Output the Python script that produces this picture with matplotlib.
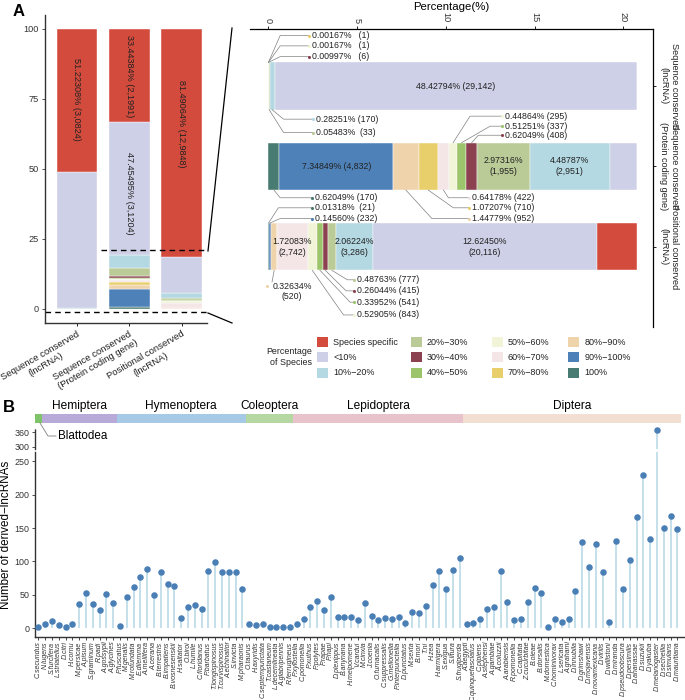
import matplotlib.pyplot as plt
from matplotlib.patches import Rectangle
from matplotlib.lines import Line2D
import numpy as np

plt.rcParams['font.family'] = ['Liberation Sans', 'DejaVu Sans']

# ---------------- panel A data ----------------
groups = ["Sequence conserved\n(lncRNA)",
          "Sequence conserved\n(Protein coding gene)",
          "Positional conserved\n(lncRNA)"]
levels = ["100%", "90%−100%", "80%−90%", "70%−80%", "60%−70%", "50%−60%",
          "40%−50%", "30%−40%", "20%−30%", "10%−20%", "<10%", "Species specific"]
level_colors = ["#487B71", "#4F81B9", "#EFD3AA", "#E9CF6B", "#F4E5E6", "#F1F4D6",
                "#9CC46B", "#8C4150", "#BBCB98", "#B4D9E3", "#CDD0E6", "#D34B3D"]
seq_lnc = [0, 0, 0, 0.00167, 0, 0.00167, 0, 0.00997, 0.05483, 0.28251, 48.42794, 51.22308]
seq_pcg = [0.62049, 6.4, 1.44779, 1.07207, 0.64178, 0.44864, 0.51251, 0.62049,
           2.97316, 4.48787, 47.45495, 33.44384]
pos_lnc = [0.01318, 0.14560, 0.32634, 0, 1.72083, 0.52905, 0.33952, 0.26044,
           0.48763, 2.06224, 12.62450, 81.49064]

left_texts = [(0, "51.22308% (3,0824)"), (1, "33.44384% (2,1991)"),
              (1, "47.45495% (3,1204)"), (2, "81.49064% (12,9848)")]
left_text_y = [74.8, 83.3, 41.4, 66.2]

inside_texts = [(0, "<10%", "48.42794% (29,142)"),
                (1, "90%−100%", "7.34849% (4,832)"),
                (1, "20%−30%", "2.97316%\n(1,955)"),
                (1, "10%−20%", "4.48787%\n(2,951)"),
                (2, "60%−70%", "1.72083%\n(2,742)"),
                (2, "10%−20%", "2.06224%\n(3,286)"),
                (2, "<10%", "12.62450%\n(20,116)")]

# (group, level, side, elbow x, label y, dot x, text)
callouts = [
    (0, "70%−80%", 1, 0.66, 3.629, 2.29, "0.00167%   (1)"),
    (0, "50%−60%", 1, 0.66, 3.50, 2.29, "0.00167%   (1)"),
    (0, "30%−40%", 1, 0.66, 3.366, 2.29, "0.00997%   (6)"),
    (0, "10%−20%", -1, 0.85, 2.5875, 2.53, "0.28251% (170)"),
    (0, "20%−30%", -1, 0.85, 2.421, 2.53, "0.05483%  (33)"),
    (1, "50%−60%", 1, 11.36, 2.625, 13.18, "0.44864% (295)"),
    (1, "40%−50%", 1, 12.49, 2.50, 13.18, "0.51251% (337)"),
    (1, "30%−40%", 1, 11.83, 2.3875, 13.18, "0.62049% (408)"),
    (1, "100%", -1, 0.66, 1.609, 2.48, "0.62049% (170)"),
    (1, "60%−70%", -1, 10.14, 1.609, 11.29, "0.64178% (422)"),
    (1, "70%−80%", -1, 10.42, 1.484, 11.29, "1.07207% (710)"),
    (1, "80%−90%", -1, 9.21, 1.35, 11.29, "1.44779% (952)"),
    (2, "100%", 1, 0.56, 1.484, 2.48, "0.01318%  (21)"),
    (2, "90%−100%", 1, 0.66, 1.35, 2.48, "0.14560% (232)"),
    (2, "20%−30%", -1, 4.45, 0.5875, 4.8, "0.48763% (777)"),
    (2, "30%−40%", -1, 4.38, 0.45, 4.8, "0.26044% (415)"),
    (2, "40%−50%", -1, 4.60, 0.309, 4.8, "0.33952% (541)"),
    (2, "50%−60%", -1, 4.23, 0.15, 4.8, "0.52905% (843)"),
]

# ---------------- panel B data ----------------
orders = ["Blattodea", "Hemiptera", "Hymenoptera", "Coleoptera", "Lepidoptera", "Diptera"]
order_sizes = [1, 11, 19, 7, 25, 32]
order_colors = ["#7EC26A", "#B7A9D8", "#A6C9E6", "#B5D8A3", "#E8C3CB", "#F2DFD2"]

species = ["C.secundus",
           "N.lugens", "S.furcifera", "L.striatellus", "D.citri", "H.cornu", "M.persicae",
           "A.pisum", "S.graminum", "R.padi", "A.gossypii", "A.glycines",
           "P.fuscatus", "M.genalis", "M.rotundata", "E.dilemma", "A.mellifera", "A.cerana",
           "B.terrestris", "B.impatiens", "B.vosnesenskii", "H.saltator", "O.biroi", "L.humile",
           "C.floridanus", "P.barbatus", "T.longispinosus", "T.curvispinosus", "A.echinatior",
           "S.invicta", "M.pharaonis",
           "O.taurus", "H.axyridis", "C.septempunctata", "T.castaneum", "L.decemlineata",
           "A.glabripennis", "R.ferrugineus",
           "P.xylostella", "C.pomonella", "P.xuthus", "P.polytes", "P.rapae", "P.napi",
           "D.plexippus", "B.anynana", "H.melpomene", "V.cardui", "M.cinxia", "J.coenia",
           "O.furnacalis", "C.suppressalis", "G.mellonella", "P.interpunctella", "D.punctatus",
           "M.sexta", "B.mori", "T.ni", "H.zea", "H.armigera", "S.exigua", "S.litura",
           "S.frugiperda",
           "A.aegypti", "C.quinquefasciatus", "C.pipiens", "A.stephensi", "A.gambiae",
           "A.coluzzii", "A.arabiensis", "R.pomonella", "C.capitata", "Z.cucurbitae",
           "B.oleae", "B.dorsalis", "M.domestica", "C.hominivorax", "L.sericata", "A.grahami",
           "D.innubila", "D.grimshawi", "D.mojavensis", "D.novamexicana", "D.virilis",
           "D.willistoni", "D.miranda", "D.pseudoobscura", "D.persimilis", "D.ananassae",
           "D.suzukii", "D.yakuba", "D.melanogaster", "D.sechellia", "D.simulans",
           "D.mauritiana"]
counts = [1,
          6, 11, 4, 1, 6, 36, 52, 36, 27, 51, 38,
          3, 47, 62, 77, 88, 50, 84, 66, 63, 15, 31, 35, 29, 86, 99, 84, 84, 84, 59,
          6, 4, 6, 1, 1, 1, 1,
          6, 13, 32, 40, 27, 47, 16, 17, 17, 12, 38, 18, 12, 15, 14, 17, 8, 24, 23, 33,
          65, 86, 59, 87, 105,
          6, 8, 13, 28, 32, 85, 39, 12, 13, 39, 60, 52, 2, 14, 9, 14, 55, 129, 91, 126,
          84, 9, 130, 59, 102, 167, 230, 133, 370, 150, 168, 148]

# ---------------- figure ----------------
W, H = 685, 700
fig = plt.figure(figsize=(6.85, 7.0), dpi=100)


def fx(px):
    return px / W


def fy(py):
    return 1 - py / H


tick_col = "#333333"
stacks = np.array([seq_lnc, seq_pcg, pos_lnc])
starts = np.cumsum(stacks, axis=1) - stacks

# ---- A left: stacked bars ----
ax1 = fig.add_axes([fx(45), fy(323), (207 - 45) / W, (323 - 15) / H])
xpos = np.array([1, 2, 3])
for j, lev in enumerate(levels):
    ax1.bar(xpos, stacks[:, j], bottom=starts[:, j], width=0.78,
            color=level_colors[j], edgecolor="white", linewidth=0.3)
for (g, txt), ty in zip(left_texts, left_text_y):
    ax1.text(xpos[g], ty, txt, rotation=-90, ha="center", va="center",
             fontsize=6.6, color="#222222")
ax1.set_xlim(0.39, 3.48)
ax1.set_ylim(-5, 105)
ax1.set_yticks([0, 25, 50, 75, 100])
ax1.set_xticks(xpos)
ax1.set_xticklabels(groups, rotation=30, ha="right", rotation_mode="anchor",
                    fontsize=6.8, color="#222222")
for lbl in ax1.get_xticklabels():
    lbl.set_multialignment("center")
ax1.tick_params(axis="y", labelsize=6.6, colors=tick_col, length=2.5, width=0.6, pad=2)
ax1.tick_params(axis="x", length=2.5, width=0.6, pad=2)
for s in ["top", "right"]:
    ax1.spines[s].set_visible(False)
for s in ["left", "bottom"]:
    ax1.spines[s].set_linewidth(1.0)
    ax1.spines[s].set_color("#333333")
ax1.plot([1.45, 3.48], [21.2, 21.2], color="black", lw=1.0, ls=(0, (4, 3)), clip_on=False)
ax1.plot([0.39, 3.48], [-0.9, -0.9], color="black", lw=1.0, ls=(0, (4, 3)), clip_on=False)

fig.add_artist(Line2D([fx(208), fx(232)], [fy(251), fy(28)], color="black", lw=0.9))
fig.add_artist(Line2D([fx(208), fx(232)], [fy(313), fy(323)], color="black", lw=0.9))

# ---- A right: zoomed horizontal bars ----
XCUT = 20.76
ax2 = fig.add_axes([fx(250), fy(327), (653 - 250) / W, (327 - 29) / H])
rows = np.array([3, 2, 1])
bar_h = 0.59
lefts = np.minimum(starts, XCUT)
rights = np.minimum(starts + stacks, XCUT)
for j, lev in enumerate(levels):
    w = np.clip(rights[:, j] - lefts[:, j], 0, None)
    ax2.barh(rows, w, left=lefts[:, j], height=bar_h, color=level_colors[j],
             edgecolor="white", linewidth=0.3)

for g, lev, txt in inside_texts:
    j = levels.index(lev)
    cx = (lefts[g, j] + rights[g, j]) / 2
    ax2.text(cx, rows[g], txt, ha="center", va="center", fontsize=6.3,
             color="#222222", linespacing=1.25)

for g, lev, side, ex, ly, dx, txt in callouts:
    j = levels.index(lev)
    sx = (lefts[g, j] + rights[g, j]) / 2
    sy = rows[g] + side * bar_h / 2
    ax2.plot([sx, ex, dx], [sy, ly, ly], color="#808080", lw=0.5, zorder=2)
    ax2.scatter([dx], [ly], s=5, color=level_colors[j], zorder=3, linewidths=0)
    ax2.text(dx + 0.17, ly, txt, ha="left", va="center", fontsize=6.3, color="#222222")

# special two-line callout on the positional row
jp = levels.index("80%−90%")
px_mid = (lefts[2, jp] + rights[2, jp]) / 2
ax2.plot([px_mid, 0.2], [rows[2] - bar_h / 2, 0.56], color="#808080", lw=0.5)
ax2.scatter([-0.056], [0.509], s=5, color=level_colors[jp], zorder=3, linewidths=0)
ax2.text(1.34, 0.4375, "0.32634%\n(520)", ha="center", va="center", fontsize=6.3,
         color="#222222", linespacing=1.15)

ax2.set_xlim(-1.04, 21.67)
ax2.set_ylim(0, 3.71)
ax2.xaxis.tick_top()
ax2.xaxis.set_label_position("top")
ax2.set_xticks([0, 5, 10, 15, 20])
ax2.set_xticklabels(["0", "5", "10", "15", "20"], rotation=-90, fontsize=6.6, color=tick_col)
ax2.set_xlabel("Percentage(%)", fontsize=8.2, labelpad=2)
ax2.yaxis.tick_right()
ax2.set_yticks(rows)
ax2.set_yticklabels(groups, rotation=-90, ha="left", va="center", fontsize=6.6, color="#222222")
for lbl in ax2.get_yticklabels():
    lbl.set_multialignment("center")
ax2.tick_params(length=2.5, width=0.6, pad=2)
for s in ["left", "bottom"]:
    ax2.spines[s].set_visible(False)
for s in ["top", "right"]:
    ax2.spines[s].set_linewidth(0.9)

# ---- legend ----
fig.text(fx(311.7), fy(357), "Percentage\nof Species", ha="right", va="center",
         fontsize=6.4, multialignment="right", color="#222222")
col_x = [317.3, 410.7, 491.7, 568.3]
row_y = [342.3, 357.3, 372.7]
legend_order = levels[::-1]
for k, lev in enumerate(legend_order):
    c, r = divmod(k, 3)
    x0, y0 = col_x[c], row_y[r]
    fig.add_artist(Rectangle((fx(x0), fy(y0 + 5)), 11 / W, 10 / H,
                             transform=fig.transFigure,
                             facecolor=level_colors[levels.index(lev)], edgecolor="none"))
    fig.text(fx(x0 + 16), fy(y0), lev, ha="left", va="center", fontsize=6.5, color="#222222")

# ---- B: lollipop with broken axis ----
xs = np.arange(len(species))
cnt = np.array(counts)
stem_col = "#B5D7E6"
pt_col = "#4A7FB5"
XL = (-0.49, 94.96)

axb = fig.add_axes([fx(35), fy(636.7), (684 - 35) / W, (636.7 - 451.7) / H])
axb.vlines(xs, 0, cnt, color=stem_col, lw=1.1, zorder=1)
axb.scatter(xs, cnt, s=22, color=pt_col, zorder=3, linewidths=0)
axb.set_xlim(*XL)
axb.set_ylim(-13, 264.7)
axb.set_yticks([0, 50, 100, 150, 200, 250])
axb.set_xticks(xs)
axb.set_xticklabels(species, rotation=90, fontsize=5.0, style="italic", color=tick_col)
axb.tick_params(axis="y", labelsize=6.4, colors=tick_col, length=2.5, width=0.6, pad=1.5)
axb.tick_params(axis="x", length=2, width=0.5, pad=1.5)
for s in ["top", "right"]:
    axb.spines[s].set_visible(False)
for s in ["left", "bottom"]:
    axb.spines[s].set_linewidth(1.0)
    axb.spines[s].set_color("#333333")

hi = cnt >= 290
axu = fig.add_axes([fx(35), fy(449), (684 - 35) / W, 20 / H])
axu.vlines(xs[hi], 0, cnt[hi], color=stem_col, lw=1.1, zorder=1)
axu.scatter(xs[hi], cnt[hi], s=22, color=pt_col, zorder=3, linewidths=0, clip_on=False)
axu.set_xlim(*XL)
axu.set_ylim(290, 374)
axu.set_yticks([300, 360])
axu.set_xticks([])
axu.tick_params(axis="y", labelsize=6.4, colors=tick_col, length=2.5, width=0.6, pad=1.5)
for s in ["top", "right", "bottom"]:
    axu.spines[s].set_visible(False)
axu.spines["left"].set_linewidth(1.0)
axu.spines["left"].set_color("#333333")
axu.spines["left"].set_linestyle((0, (1.5, 1)))

axh = fig.add_axes([fx(35), fy(423), (684 - 35) / W, 9 / H])
o_left = np.cumsum(order_sizes) - np.array(order_sizes) - 0.5
axh.barh([0], order_sizes, left=o_left, height=1, color=order_colors)
axh.set_xlim(*XL)
axh.set_ylim(-0.5, 0.5)
axh.axis("off")
for name, l, n in zip(orders[1:], o_left[1:], order_sizes[1:]):
    axh.annotate(name, (l + n / 2, 0.5), xytext=(0, 6), textcoords="offset points",
                 ha="center", va="center", fontsize=8.6)

fig.add_artist(Line2D([fx(40), fx(48), fx(56)], [fy(423), fy(436), fy(436)],
                      color="#808080", lw=0.6))
fig.text(fx(58), fy(436), "Blattodea", ha="left", va="center", fontsize=8.4)
fig.text(fx(6.5), fy(535), "Number of derived−lncRNAs", rotation=90, ha="center",
         va="center", fontsize=8.4)

fig.text(fx(13), fy(11), "A", fontsize=12, fontweight="bold", ha="left", va="center")
fig.text(fx(3), fy(407), "B", fontsize=12, fontweight="bold", ha="left", va="center")

plt.savefig("out.png", dpi=100)
